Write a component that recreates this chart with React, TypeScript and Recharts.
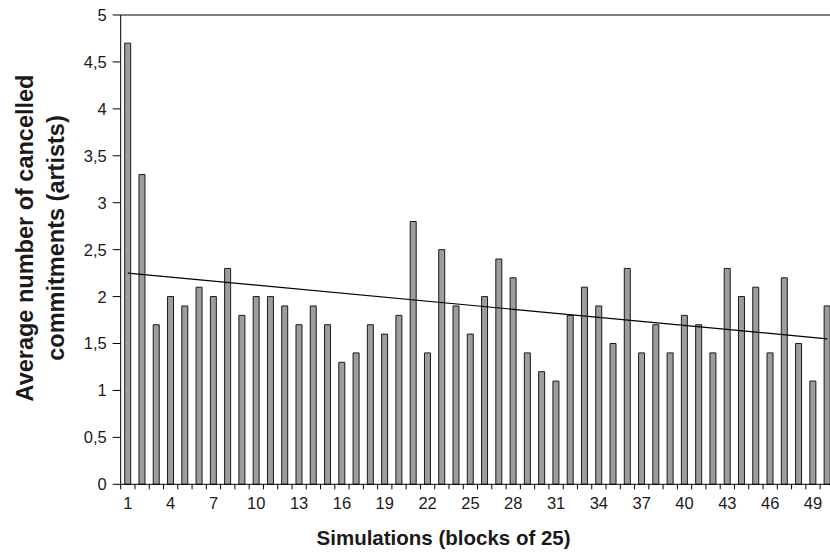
import React from 'react';
import { ComposedChart, Bar, Line, XAxis, YAxis, ReferenceLine } from 'recharts';

const blocks = [
  1, 2, 3, 4, 5, 6, 7, 8, 9, 10,
  11, 12, 13, 14, 15, 16, 17, 18, 19, 20,
  21, 22, 23, 24, 25, 26, 27, 28, 29, 30,
  31, 32, 33, 34, 35, 36, 37, 38, 39, 40,
  41, 42, 43, 44, 45, 46, 47, 48, 49, 50,
];

const cancelled = [
  4.7, 3.3, 1.7, 2.0, 1.9, 2.1, 2.0, 2.3, 1.8, 2.0,
  2.0, 1.9, 1.7, 1.9, 1.7, 1.3, 1.4, 1.7, 1.6, 1.8,
  2.8, 1.4, 2.5, 1.9, 1.6, 2.0, 2.4, 2.2, 1.4, 1.2,
  1.1, 1.8, 2.1, 1.9, 1.5, 2.3, 1.4, 1.7, 1.4, 1.8,
  1.7, 1.4, 2.3, 2.0, 2.1, 1.4, 2.2, 1.5, 1.1, 1.9,
];

// linear trend line endpoints (at block 1 and block 50)
const trendStart = 2.25;
const trendEnd = 1.55;

const yTicks = [0, 0.5, 1, 1.5, 2, 2.5, 3, 3.5, 4, 4.5, 5];
const xLabelEvery = 3;

const yTitleLines = ['Average number of cancelled', 'commitments (artists)'];
const xTitle = 'Simulations (blocks of 25)';

const data = blocks.map((b, i) => ({
  block: b,
  value: cancelled[i],
  trend: i === 0 ? trendStart : i === blocks.length - 1 ? trendEnd : null,
}));

const CHART_W = 840;
const CHART_H = 557;
const MARGIN = { top: 15, right: 5.6, bottom: 42.7, left: 0 };
const Y_AXIS_W = 120.7;
const X_AXIS_H = 30;
const PLOT_LEFT = MARGIN.left + Y_AXIS_W;
const PLOT_W = CHART_W - MARGIN.right - PLOT_LEFT;
const PLOT_BOTTOM = CHART_H - MARGIN.bottom - X_AXIS_H;
const STEP = PLOT_W / blocks.length;

const FONT = '"Liberation Sans", Arial, Helvetica, sans-serif';
const TICK_FONT = 16.5;

const XTick = (props: any) => {
  const { x, index, payload } = props;
  const bx = x - STEP / 2;
  return (
    <g>
      <line x1={bx} x2={bx} y1={PLOT_BOTTOM} y2={PLOT_BOTTOM + 5} stroke="#000" strokeWidth={1} />
      {index % xLabelEvery === 0 ? (
        <text x={x} y={PLOT_BOTTOM + 25} textAnchor="middle" fontSize={TICK_FONT} fill="#1a1a1a" fontFamily={FONT}>
          {payload.value}
        </text>
      ) : null}
    </g>
  );
};

const YTick = (props: any) => {
  const { x, y, payload } = props;
  return (
    <text x={x} y={y} dy="0.36em" textAnchor="end" fontSize={TICK_FONT} fill="#1a1a1a" fontFamily={FONT}>
      {String(payload.value).replace('.', ',')}
    </text>
  );
};

const YTitle = () => {
  const cy = 238;
  return (
    <g>
      {yTitleLines.map((t, i) => {
        const bx = 33 + i * 31;
        return (
          <text
            key={i}
            x={bx}
            y={cy}
            transform={`rotate(-90, ${bx}, ${cy})`}
            textAnchor="middle"
            fontSize={23.5}
            fontWeight="bold"
            fill="#1a1a1a"
            fontFamily={FONT}
          >
            {t}
          </text>
        );
      })}
    </g>
  );
};

const XTitle = () => (
  <text
    x={(PLOT_LEFT + PLOT_LEFT + PLOT_W) / 2 - 34}
    y={545}
    textAnchor="middle"
    fontSize={20.5}
    fontWeight="bold"
    fill="#1a1a1a"
    fontFamily={FONT}
  >
    {xTitle}
  </text>
);

export default function App() {
  return (
    <div style={{ position: 'absolute', left: 0, top: 0, width: 830, height: 557, overflow: 'hidden', background: '#fff' }}>
      <ComposedChart width={CHART_W} height={CHART_H} data={data} margin={MARGIN}>
        <XAxis
          dataKey="block"
          type="category"
          interval={0}
          height={X_AXIS_H}
          axisLine={{ stroke: '#000', strokeWidth: 1 }}
          tickLine={false}
          tick={<XTick />}
          label={{ content: () => <XTitle /> }}
        />
        <YAxis
          domain={[0, 5]}
          ticks={yTicks}
          width={Y_AXIS_W}
          axisLine={{ stroke: '#000', strokeWidth: 1 }}
          tickLine={{ stroke: '#000', strokeWidth: 1 }}
          tickSize={8}
          tickMargin={6}
          tick={<YTick />}
          label={{ content: () => <YTitle /> }}
        />
        <ReferenceLine y={5} stroke="#000" strokeWidth={1} />
        <Bar dataKey="value" fill="#9d9d9d" stroke="#1a1a1a" strokeWidth={1} barSize={6} isAnimationActive={false} />
        <Line
          dataKey="trend"
          type="linear"
          stroke="#000"
          strokeWidth={1.2}
          dot={false}
          connectNulls
          isAnimationActive={false}
        />
      </ComposedChart>
    </div>
  );
}
